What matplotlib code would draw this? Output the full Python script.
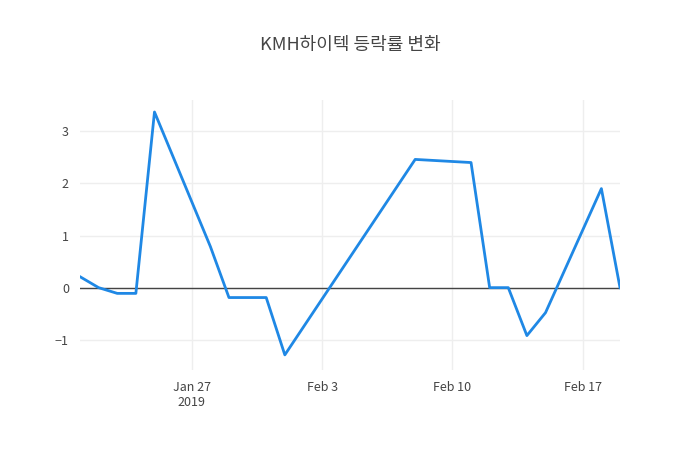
import matplotlib
matplotlib.use('Agg')
import matplotlib.pyplot as plt
import matplotlib.dates as mdates
import pandas as pd

plt.rcParams['font.family'] = ['Noto Sans CJK KR', 'DejaVu Sans']

dates = pd.to_datetime([
    '2019-01-21', '2019-01-22', '2019-01-23', '2019-01-24', '2019-01-25',
    '2019-01-28', '2019-01-29', '2019-01-31', '2019-02-01', '2019-02-08',
    '2019-02-11', '2019-02-12', '2019-02-13', '2019-02-14', '2019-02-15',
    '2019-02-18', '2019-02-19'])
rates = [0.21, 0.0, -0.11, -0.11, 3.37, 0.79, -0.19, -0.19, -1.29, 2.46,
         2.40, 0.0, 0.0, -0.92, -0.48, 1.90, 0.0]
tick_dates = pd.to_datetime(['2019-01-27', '2019-02-03', '2019-02-10', '2019-02-17'])
tick_labels = ['Jan 27\n2019', 'Feb 3', 'Feb 10', 'Feb 17']

fig = plt.figure(figsize=(7, 4.5), dpi=100)
ax = fig.add_axes([80/700, 1 - 370/450, 540/700, 270/450])
ax.plot(dates, rates, color='#1f88e5', lw=2, zorder=3)
ax.axhline(0, color='#444444', lw=1, zorder=2)
ax.set_xlim(dates[0], dates[-1])
ax.set_ylim(-1.58, 3.6)
ax.set_yticks([-1, 0, 1, 2, 3])
ax.set_yticklabels(['\u22121', '0', '1', '2', '3'])
ax.set_xticks(tick_dates)
ax.set_xticklabels(tick_labels)
ax.grid(color='#eeeeee', lw=1)
for s in ax.spines.values():
    s.set_visible(False)
ax.tick_params(length=0, colors='#444444', labelsize=9, pad=8)
fig.text(0.5, 1 - 45/450, 'KMH하이텍 등락률 변화', ha='center', va='center',
         fontsize=13, color='#444444')
fig.savefig('out.png')
